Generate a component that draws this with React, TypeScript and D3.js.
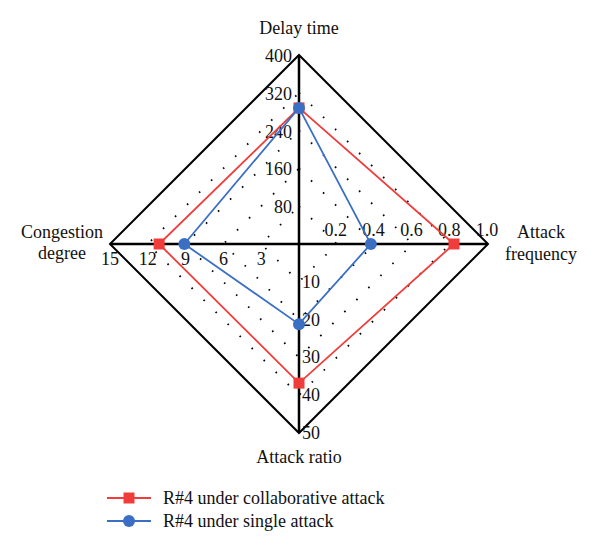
import React from "react";
import * as d3 from "d3";

const axes = ["Delay time", "Attack frequency", "Attack ratio", "Congestion degree"];
const axisMax = [400, 1.0, 50, 15];
const delayTicks = ["80", "160", "240", "320", "400"];
const freqTicks = ["0.2", "0.4", "0.6", "0.8", "1.0"];
const ratioTicks = ["10", "20", "30", "40", "50"];
const congTicks = ["3", "6", "9", "12", "15"];
const levels = [0.2, 0.4, 0.6, 0.8, 1.0];

const collaborative = [288, 0.82, 36.8, 11.1];
const single = [288, 0.38, 21.2, 9.1];

const seriesNames = ["R#4 under collaborative attack", "R#4 under single attack"];
const colors = ["#f03c3a", "#3b6fc4"];

const W = 600;
const H = 552;
const cx = 299;
const cy = 244;
const R = 189;
const FONT = "Liberation Serif, DejaVu Serif, serif";

// directions: up, right, down, left
const dirs: [number, number][] = [
  [0, -1],
  [1, 0],
  [0, 1],
  [-1, 0],
];

export default function App() {
  const scales = axisMax.map((m) => d3.scaleLinear().domain([0, m]).range([0, R]));
  const pt = (i: number, v: number): [number, number] => {
    const r = scales[i](v);
    return [cx + dirs[i][0] * r, cy + dirs[i][1] * r];
  };
  const line = d3.line<[number, number]>().curve(d3.curveLinearClosed);
  const diamond = (f: number) =>
    line(dirs.map((d) => [cx + d[0] * R * f, cy + d[1] * R * f] as [number, number]))!;

  const series = [collaborative, single];
  const ts = { fontFamily: FONT, fontSize: 18, fill: "#111" } as React.CSSProperties;

  return (
    <svg width={W} height={H} style={{ position: "absolute", left: 0, top: 0 }}>
      <rect width={W} height={H} fill="#fff" />
      {levels.slice(0, 4).map((f) => (
        <path key={f} d={diamond(f)} fill="none" stroke="#000" strokeWidth={1.8}
          strokeDasharray="1.6 15.4" strokeLinecap="butt" />
      ))}
      <path d={diamond(1)} fill="none" stroke="#000" strokeWidth={2} />
      <line x1={cx} y1={cy - R} x2={cx} y2={cy + R} stroke="#000" strokeWidth={2.5} />
      <line x1={cx - R} y1={cy} x2={cx + R} y2={cy} stroke="#000" strokeWidth={2.5} />

      {/* tick labels */}
      {delayTicks.map((t) => {
        const [, y] = pt(0, +t);
        return (
          <text key={t} x={cx - 7} y={y + 7} textAnchor="end" style={ts}>{t}</text>
        );
      })}
      {freqTicks.map((t) => {
        const [x] = pt(1, +t);
        return (
          <text key={t} x={x - 1} y={cy - 8} textAnchor="middle" style={ts}>{t}</text>
        );
      })}
      {ratioTicks.map((t) => {
        const [, y] = pt(2, +t);
        return (
          <text key={t} x={cx + 3} y={y + 6} textAnchor="start" style={ts}>{t}</text>
        );
      })}
      {congTicks.map((t) => {
        const [x] = pt(3, +t);
        return (
          <text key={t} x={x} y={cy + 21} textAnchor="middle" style={ts}>{t}</text>
        );
      })}

      {/* axis titles */}
      <text x={cx} y={34} textAnchor="middle" style={ts}>{axes[0]}</text>
      <text x={541} y={238} textAnchor="middle" style={ts}>Attack</text>
      <text x={541} y={260} textAnchor="middle" style={ts}>frequency</text>
      <text x={cx} y={463} textAnchor="middle" style={ts}>{axes[2]}</text>
      <text x={62} y={238} textAnchor="middle" style={ts}>Congestion</text>
      <text x={62} y={259} textAnchor="middle" style={ts}>degree</text>

      {/* series */}
      {series.map((s, si) => {
        const pts = s.map((v, i) => pt(i, v));
        return (
          <g key={si}>
            <path d={line(pts)!} fill="none" stroke={colors[si]} strokeWidth={1.8} />
            {pts.map((p, i) =>
              si === 0 ? (
                <rect key={i} x={p[0] - 5.5} y={p[1] - 5.5} width={11} height={11} fill={colors[si]} />
              ) : (
                <circle key={i} cx={p[0]} cy={p[1]} r={6} fill={colors[si]} />
              )
            )}
          </g>
        );
      })}

      {/* legend */}
      {seriesNames.map((n, si) => {
        const y = 498 + si * 23;
        return (
          <g key={n}>
            <line x1={107} x2={151} y1={y} y2={y} stroke={colors[si]} strokeWidth={1.8} />
            {si === 0 ? (
              <rect x={123.5} y={y - 5.5} width={11} height={11} fill={colors[si]} />
            ) : (
              <circle cx={129} cy={y} r={6} fill={colors[si]} />
            )}
            <text x={163} y={y + 6} style={ts}>{n}</text>
          </g>
        );
      })}
    </svg>
  );
}
